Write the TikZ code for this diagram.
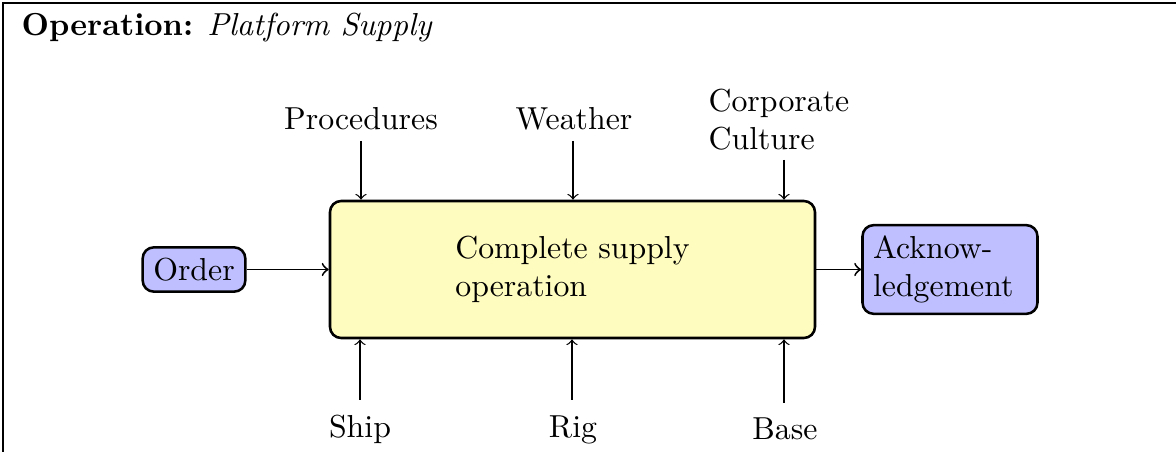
\documentclass[tikz,border=0pt]{standalone}
\usetikzlibrary{arrows}
\def\u{0.3145pt}
\tikzset{
  frameline/.style={line width=0.6pt, black},
  blockbox/.style={draw, thick, rounded corners=3.5pt},
  lbl/.style={inner sep=0pt},
  flow/.style={->, semithick},
  ctl/.style={->, thin},
}
\begin{document}
\begin{tikzpicture}[x=0.3145pt, y=-0.3145pt, font=\normalsize]
\useasboundingbox (0,0) rectangle (1176,452);
% frame
\coordinate (ftl) at (3,3);
\coordinate (ftr) at (1176,3);
\coordinate (fbl) at (3,452);
\draw[frameline] (ftr) -- (ftl) -- (fbl);
% title
\node[lbl, anchor=base west] (title) at (21,36) {\textbf{Operation:} \textit{Platform Supply}};
% main blocks
\node[blockbox, fill=yellow!25, inner sep=0pt, minimum width=485*\u, minimum height=137*\u,
      align=left] (main) at (572.5,269.5) {Complete supply\\operation};
\node[blockbox, fill=blue!25, minimum width=102*\u, minimum height=43*\u] (order) at (194,269.5) {Order};
\node[blockbox, fill=blue!25, minimum width=174*\u, minimum height=87*\u,
      text width=1.7cm, align=left] (ack) at (950,269.5) {Acknow-\\ledgement};
\draw[flow] (order.east) -- (main.west);
\draw[flow] (main.east) -- (ack.west);
% top labels
\node[lbl, anchor=base] (proc) at (361,130) {Procedures};
\node[lbl, anchor=base] (weather) at (574,130) {Weather};
\node[lbl, anchor=north west, align=left] (corp) at (708,88) {Corporate\\Culture};
\coordinate (p1) at (361,141);
\coordinate (p2) at (573,141);
\coordinate (p3) at (784,160);
\draw[ctl] (p1) -- (p1 |- main.north);
\draw[ctl] (p2) -- (p2 |- main.north);
\draw[ctl] (p3) -- (p3 |- main.north);
% bottom labels
\node[lbl, anchor=base] (ship) at (360,437.5) {Ship};
\node[lbl, anchor=base] (rig) at (573,437.5) {Rig};
\node[lbl, anchor=base] (base) at (785,439.5) {Base};
\coordinate (b1) at (360,400);
\coordinate (b2) at (572,400);
\coordinate (b3) at (784,403);
\draw[ctl] (b1) -- (b1 |- main.south);
\draw[ctl] (b2) -- (b2 |- main.south);
\draw[ctl] (b3) -- (b3 |- main.south);
\end{tikzpicture}
\end{document}
